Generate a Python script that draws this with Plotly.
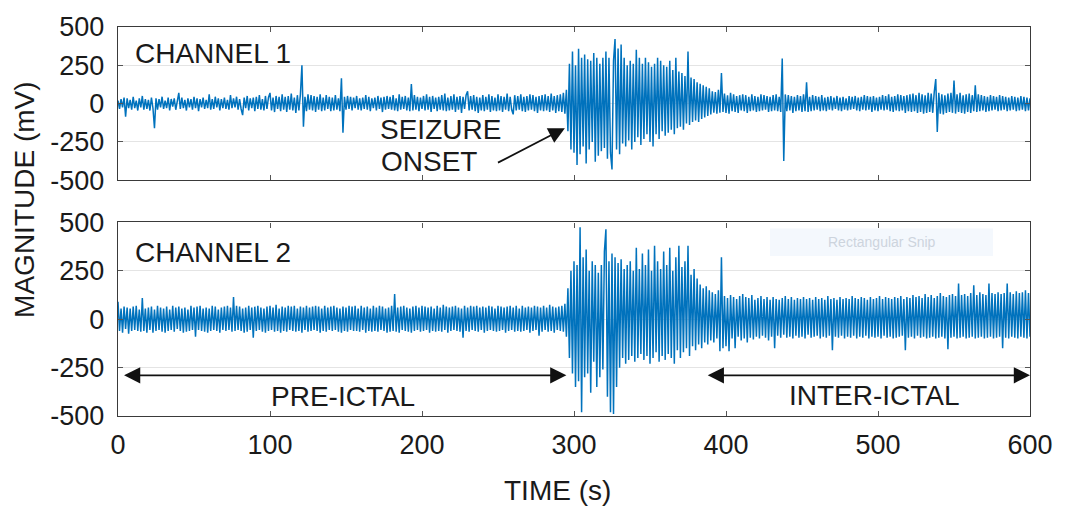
import numpy as np
import plotly.graph_objects as go

# ---------------- data (1 sample per second) ----------------
CH1_MV = [
    20, -35, 30, -25, 40, -85, 35, -30, 25, -40,
    45, -30, 20, -45, 35, -25, 50, -40, 30, -35,
    25, -45, 40, -30, -160, 35, -40, 30, -25, 45,
    -35, 20, -30, 40, -45, 30, -20, 35, -40, 25,
    70, -35, 40, -30, 25, -45, 35, -25, 30, -40,
    45, -30, 35, -50, 30, -25, 40, -35, 25, -30,
    60, -40, 30, -35, 45, -25, 35, -45, 30, -30,
    40, -35, 25, -40, 55, -30, 35, -25, 45, -40,
    30, -35, -75, 40, -30, 50, -45, 35, -30, 40,
    -50, 45, -35, 55, -40, 30, -45, 50, -35, 40,
    70, -45, 40, -55, 50, -35, 45, -50, 60, -40,
    45, -55, 50, -40, 65, -45, 40, -60, 55, -45,
    60, 250, -150, 45, -50, 60, -40, 55, -45, 50,
    -55, 45, -40, 60, -50, 40, -45, 55, -35, 45,
    -50, 40, -45, 55, -40, 35, -50, 165, -190, 45,
    -40, 50, -35, 45, -45, 40, -30, 50, -40, 35,
    -45, 40, -35, 55, -40, 45, -50, 35, -30, 40,
    -45, 50, -35, 40, -55, 45, -40, 50, -35, 45,
    -40, 55, -45, 35, -50, 60, -40, 45, -35, 50,
    -45, 40, -50, 128, -45, 55, -40, 45, -50, 40,
    -35, 50, -45, 60, -40, 45, -55, 50, -35, 40,
    -50, 45, -40, 55, -45, 65, -50, 40, -45, 50,
    -40, 60, -55, 45, -40, 50, -60, 45, -35, 55,
    80, -45, 50, -40, 55, -50, 45, -60, 40, -45,
    55, -50, 45, -40, 60, -55, 50, -45, 40, -50,
    60, -45, 50, -55, 45, -40, 65, -50, 45, -40,
    -70, 55, -45, 50, -40, 60, -50, 45, -55, 50,
    -45, 60, -40, 55, -50, 45, -60, 50, -45, 55,
    -50, 60, -45, 50, -55, 65, -45, 50, -60, 55,
    -50, 60, -55, 70, -65, 90, -180, 260, -300, 340,
    -320, 250, -400, 358, -330, 300, -280, 320, -390, 290,
    -300, 280, -250, 330, -380, 300, -340, 260, -310, 300,
    -290, 340, -360, 300, -320, -430, 280, 422, -300, 360,
    -330, 385, -260, 300, -280, 250, -240, 280, -300, 260,
    -250, 352, -220, 300, -270, 260, -230, 300, -200, 270,
    -250, 240, -280, 260, -200, 300, -230, 280, -180, 250,
    -210, 240, -190, 280, -170, 220, -200, 300, -160, 210,
    -150, 200, -170, 180, -130, 340, -140, 170, -120, 160,
    -110, 140, -120, 130, -100, 120, -90, 110, -80, 100,
    -70, 80, -60, 75, -65, 90, -60, 200, -55, 65,
    -60, 55, -65, 70, -50, 60, -55, 50, -60, 55,
    -45, 60, -50, 55, -60, 45, -50, 60, -45, 50,
    -55, 45, -50, 60, -45, 55, -40, 50, -55, 45,
    -50, 55, -45, 60, -50, 45, -55, 295, -375, 60,
    -50, 55, -45, 50, -60, 45, -50, 55, -45, 50,
    -55, 60, -50, 140, -55, 45, -50, 55, -45, 50,
    -40, 45, -50, 55, -45, 40, -50, 45, -40, 50,
    -45, 40, -35, 50, -45, 40, -50, 45, -40, 35,
    -45, 50, -40, 45, -35, 50, -45, 40, -50, 45,
    -40, 55, -45, 50, -40, 45, -55, 50, -45, 40,
    -50, 45, -40, 55, -45, 50, -40, 60, -50, 45,
    -55, 50, -45, 60, -50, 55, -45, 50, -60, 55,
    -50, 60, -55, 65, -50, 55, -60, 70, -55, 60,
    -65, 55, -60, 70, -55, 65, -60, 75, 160, -185,
    70, -65, 60, -70, 55, -60, 65, -55, 70, -60,
    150, -65, 60, -55, 70, -60, 55, -65, 60, -55,
    65, -60, 55, -50, 120, -55, 60, -50, 55, -45,
    50, -55, 45, -50, 55, -45, 50, -40, 45, -50,
    55, -45, 50, -40, 45, -50, 40, -45, 50, -40,
    45, -50, 40, -45, 50, -40, 45, -50, 40, -45, 35,
]

CH2_MV = [
    90, -60, 55, -70, 65, -50, 60, -75, 55, -60,
    65, -55, 70, -60, 50, -65, 110, -60, 55, -70,
    60, -55, 65, -70, 50, -60, 70, -55, 60, -65,
    55, -70, 65, -60, 50, -55, 70, -65, 60, -50,
    65, -60, 55, -70, 60, -65, 50, -60, 70, -55,
    60, -90, 65, -55, 70, -60, 55, -65, 60, -70,
    55, -60, 70, -55, 65, -60, 50, -70, 60, -55,
    65, -60, 70, -55, 60, -65, 115, -60, 70, -55,
    65, -60, 55, -70, 60, -65, 70, -55, 60, -95,
    65, -60, 70, -55, 60, -65, 55, -70, 65, -60,
    70, -55, 60, -65, 75, -60, 55, -70, 65, -60,
    60, -65, 70, -55, 65, -60, 70, -65, 55, -60,
    65, -70, 60, -55, 70, -65, 60, -60, 65, -55,
    70, -60, 65, -70, 55, -60, 70, -65, 60, -55,
    65, -60, 70, -55, 60, -65, 55, -70, 65, -60,
    60, -65, 70, -55, 65, -60, 70, -60, 55, -65,
    70, -55, 60, -70, 65, -60, 55, -65, 70, -60,
    60, -65, 70, -55, 65, -60, 55, -70, 60, -65,
    70, -60, 130, -65, 60, -70, 65, -55, 70, -60,
    60, -65, 55, -70, 65, -60, 70, -55, 60, -65,
    70, -60, 65, -55, 60, -70, 65, -60, 55, -65,
    70, -60, 60, -65, 75, -55, 65, -70, 60, -60,
    65, -55, 70, -60, 60, -65, 55, -95, 70, -60,
    60, -65, 70, -55, 65, -60, 70, -65, 60, -55,
    65, -70, 60, -60, 70, -55, 65, -60, 55, -65,
    70, -60, 65, -55, 60, -70, 65, -60, 70, -55,
    60, -65, 70, -60, 55, -65, 70, -60, 60, -55,
    65, -70, 60, -60, 70, -55, 65, -85, 60, -65,
    70, -55, 60, -65, 75, -60, 65, -70, 60, -55,
    65, -60, 70, -65, 80, -90, 160, -200, 250, -280,
    300, -350, 280, -320, 475, -480, 320, -300, 360, -280,
    250, -380, 300, -220, 280, -350, 240, -300, 280, -260,
    350, 465, -400, 300, -480, 340, -490, 320, -350, 290,
    -250, 310, -200, 260, -230, 280, -210, 300, -190, 250,
    -220, 370, -200, 260, -180, 340, -210, 280, -190, 360,
    -230, 250, -200, 380, -170, 300, -220, 260, -190, 350,
    -210, 280, -180, 370, -200, 250, -230, 320, -160, 380,
    -200, 270, -170, 300, -150, 380, -190, 230, -140, 260,
    -160, 210, -130, 180, -150, 160, -120, 170, -130, 150,
    -110, 140, -120, 130, -100, 150, -165, 320, -150, 120,
    -140, 110, -165, 125, -100, 115, -150, 105, -90, 120,
    -110, 130, -100, 115, -120, 110, -95, 125, -105, 100,
    -90, 110, -100, 120, -85, 105, -95, 115, -110, 100,
    -90, 115, -150, 105, -85, 100, -95, 110, -80, 120,
    -95, 105, -90, 115, -100, 100, -85, 110, -95, 105,
    -90, 115, -100, 105, -80, 110, -95, 100, -90, 115,
    -85, 105, -100, 110, -90, 100, -95, 120, -85, 105,
    -160, 110, -90, 100, -95, 115, -85, 105, -100, 110,
    -90, 105, -95, 120, -85, 110, -100, 105, -90, 115,
    -95, 110, -85, 100, -100, 115, -90, 105, -95, 110,
    -90, 120, -100, 105, -85, 115, -95, 110, -90, 105,
    -100, 115, -95, 110, -90, 120, -85, 105, -160, 115,
    -95, 110, -90, 125, -100, 115, -85, 120, -95, 110,
    -90, 130, -100, 115, -95, 125, -90, 110, -100, 120,
    -95, 135, -90, 120, -100, 115, -155, 125, -95, 130,
    -90, 120, -100, 185, -95, 125, -90, 130, -100, 120,
    -95, 135, -90, 175, -100, 125, -95, 140, -90, 130,
    -100, 125, -95, 185, -90, 135, -100, 130, -95, 140,
    -90, 130, -150, 135, -95, 185, -100, 140, -90, 130,
    -95, 145, -100, 135, -90, 140, -95, 150, -100, 135, -90,
]

Y_TICKS = [-500, -250, 0, 250, 500]
Y_TICK_TEXT = ["-500", "-250", "0", "250", "500"]
X_TICKS = [0, 100, 200, 300, 400, 500, 600]
X_RANGE = [0, 600]
Y_RANGE = [-500, 500]

# ---------------- layout geometry ----------------
W, H = 1068, 510
ML, MR, MT, MB = 118, 38, 20, 94
PW, PH = W - ML - MR, H - MT - MB


def px(xp):
    return (xp - ML) / PW


def py(yp):
    return 1 - (yp - MT) / PH


BLUE = "#0072BD"
FONT = "Arial, Liberation Sans, Helvetica, sans-serif"
TXT = "#1a1a1a"

t1 = np.arange(len(CH1_MV))
t2 = np.arange(len(CH2_MV))

fig = go.Figure()
fig.add_trace(go.Scatter(x=t1, y=CH1_MV, mode="lines", xaxis="x", yaxis="y",
                         line=dict(color=BLUE, width=1.5), showlegend=False, hoverinfo="skip"))
fig.add_trace(go.Scatter(x=t2, y=CH2_MV, mode="lines", xaxis="x2", yaxis="y2",
                         line=dict(color=BLUE, width=1.5), showlegend=False, hoverinfo="skip"))

axis_common = dict(showline=True, linecolor="#3a3a3a", linewidth=1.4, mirror="ticks",
                   ticks="inside", ticklen=5, tickcolor="#555555", zeroline=False,
                   tickfont=dict(family=FONT, size=27, color=TXT))

fig.update_layout(
    width=W, height=H, autosize=False,
    margin=dict(l=ML, r=MR, t=MT, b=MB, pad=0),
    paper_bgcolor="white", plot_bgcolor="white",
    xaxis=dict(domain=[0, 1], range=X_RANGE, anchor="y", tickvals=X_TICKS,
               showticklabels=False, showgrid=False, **axis_common),
    yaxis=dict(domain=[py(176), 1], range=Y_RANGE, anchor="x", tickvals=Y_TICKS,
               ticktext=Y_TICK_TEXT, showgrid=True, gridcolor="#e4e4e4", gridwidth=1,
               ticklabelstandoff=7, **axis_common),
    xaxis2=dict(domain=[0, 1], range=X_RANGE, anchor="y2", tickvals=X_TICKS,
                showticklabels=True, showgrid=False, ticklabelstandoff=4, **axis_common),
    yaxis2=dict(domain=[0, py(219)], range=Y_RANGE, anchor="x2", tickvals=Y_TICKS,
                ticktext=Y_TICK_TEXT, showgrid=True, gridcolor="#e4e4e4", gridwidth=1,
                ticklabelstandoff=7, **axis_common),
)

ann = []
# axis titles
ann.append(dict(text="MAGNITUDE (mV)", xref="paper", yref="paper", x=px(25), y=py(196),
                textangle=-90, showarrow=False, xanchor="center", yanchor="middle",
                font=dict(family=FONT, size=28, color=TXT)))
ann.append(dict(text="TIME (s)", xref="paper", yref="paper", x=px(557), y=py(492),
                showarrow=False, xanchor="center", yanchor="middle",
                font=dict(family=FONT, size=28, color=TXT)))
# channel labels
ann.append(dict(text="CHANNEL 1", xref="paper", yref="paper", x=px(133), y=py(47),
                showarrow=False, xanchor="left", yanchor="middle",
                font=dict(family=FONT, size=28, color=TXT)))
ann.append(dict(text="CHANNEL 2", xref="paper", yref="paper", x=px(133), y=py(250),
                showarrow=False, xanchor="left", yanchor="middle",
                font=dict(family=FONT, size=28, color=TXT)))
# seizure onset
ann.append(dict(text="SEIZURE", xref="paper", yref="paper", x=px(378), y=py(124),
                showarrow=False, xanchor="left", yanchor="middle",
                font=dict(family=FONT, size=28, color=TXT)))
ann.append(dict(text="ONSET", xref="paper", yref="paper", x=px(379), y=py(157),
                showarrow=False, xanchor="left", yanchor="middle",
                font=dict(family=FONT, size=28, color=TXT)))
ann.append(dict(text="", xref="x", yref="y", axref="x", ayref="y",
                x=294, y=-160, ax=249, ay=-390, showarrow=True,
                arrowhead=2, arrowsize=1.8, arrowwidth=1.8, arrowcolor="#111111", standoff=0))
# pre-ictal / inter-ictal arrows
ann.append(dict(text="", xref="x2", yref="y2", axref="x2", ayref="y2",
                x=295, y=-290, ax=3, ay=-290, showarrow=True, arrowside="end+start",
                arrowhead=2, startarrowhead=2, arrowsize=1.8, startarrowsize=1.8,
                arrowwidth=1.8, arrowcolor="#111111", standoff=0, startstandoff=0))
ann.append(dict(text="", xref="x2", yref="y2", axref="x2", ayref="y2",
                x=600, y=-290, ax=387, ay=-290, showarrow=True, arrowside="end+start",
                arrowhead=2, startarrowhead=2, arrowsize=1.8, startarrowsize=1.8,
                arrowwidth=1.8, arrowcolor="#111111", standoff=0, startstandoff=0))
ann.append(dict(text="PRE-ICTAL", xref="paper", yref="paper", x=px(343), y=py(396),
                showarrow=False, xanchor="center", yanchor="middle",
                font=dict(family=FONT, size=28, color=TXT)))
ann.append(dict(text="INTER-ICTAL", xref="paper", yref="paper", x=px(874), y=py(395),
                showarrow=False, xanchor="center", yanchor="middle",
                font=dict(family=FONT, size=28, color=TXT)))
# faint screenshot-tool overlay seen in the source image
ann.append(dict(text="Rectangular Snip", xref="paper", yref="paper", x=px(882), y=py(239),
                showarrow=False, xanchor="center", yanchor="middle",
                font=dict(family=FONT, size=14, color="#cdd4dd")))
fig.update_layout(annotations=ann)

fig.add_shape(type="rect", xref="paper", yref="paper",
              x0=px(770), x1=px(993), y0=py(253), y1=py(225),
              fillcolor="rgba(228,238,249,0.4)", line=dict(width=0), layer="above")

fig.write_html("out.html")
